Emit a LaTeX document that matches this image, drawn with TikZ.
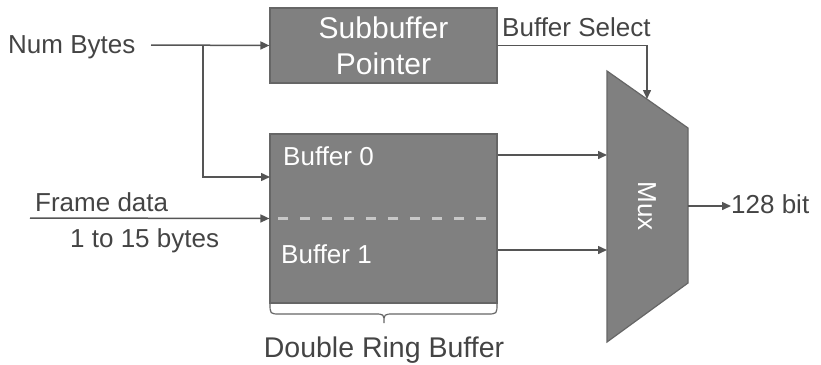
\documentclass[tikz,border=0pt]{standalone}
\usepackage{fontspec}
\setmainfont{Liberation Sans}
\usetikzlibrary{arrows.meta}
\definecolor{boxfill}{HTML}{808080}
\definecolor{boxline}{HTML}{666666}
\definecolor{txt}{HTML}{444444}
\definecolor{wirec}{HTML}{555555}
\definecolor{dashc}{HTML}{C8C8C8}
\begin{document}
\begin{tikzpicture}[x=1pt,y=-1pt,
  lbl/.style={font=\fontsize{26}{30}\selectfont, text=txt, inner sep=0pt},
  blk/.style={draw=boxline, fill=boxfill, line width=1.2pt},
  wire/.style={draw=wirec, line width=1.5pt, -{Triangle[length=9pt,width=8pt]}}]
\useasboundingbox (0,0) rectangle (821,364);
% blocks
\node[blk, minimum width=227pt, minimum height=75pt, inner sep=0pt,
      font=\fontsize{30}{36}\selectfont, text=white, align=center] (sub) at (383.5,45.5) {Subbuffer\\Pointer};
\node[blk, minimum width=227pt, minimum height=169pt, inner sep=0pt] (buf) at (383.5,218.5) {};
\node[lbl, text=white, anchor=base west] (b0) at (283,165) {Buffer 0};
\node[lbl, text=white, anchor=base west] (b1) at (281,263) {Buffer 1};
\draw[dashc, line width=3pt, dash pattern=on 10pt off 12pt] (278,218) -- (490,218);
% mux
\draw[blk] (607,71) -- (688,128) -- (688,283) -- (607,342) -- cycle;
\coordinate (muxsel) at (647,99);
\coordinate (muxin0) at (607,155);
\coordinate (muxin1) at (607,250);
\coordinate (muxout) at (688,206);
\node[font=\fontsize{26}{30}\selectfont, text=white, rotate=-90, inner sep=0pt] (muxl) at (647,206) {Mux};
% labels
\node[lbl, anchor=base west] (nb) at (8,53) {Num Bytes};
\node[lbl, anchor=base west] (fd) at (35,211) {Frame data};
\node[lbl, anchor=base west] (fb) at (70,247) {1 to 15 bytes};
\node[lbl, anchor=base west] (bs) at (502,36) {Buffer Select};
\node[lbl, anchor=base west] (out) at (731,213) {128 bit};
\node[font=\fontsize{28.5}{34}\selectfont, text=txt, inner sep=0pt, anchor=base] (drb) at (384,357) {Double Ring Buffer};
% connectors
\coordinate (nbs) at (151,45);
\coordinate (split) at (203,45);
\coordinate (b0in) at (270,177);
\coordinate (fs) at (30,218);
\draw[wire] (nbs) -- (sub.west);
\draw[wire] (split) |- (b0in);
\draw[wire] (fs) -- (buf.west);
\draw[wire] (buf.east |- muxin0) -- (muxin0);
\draw[wire] (buf.east |- muxin1) -- (muxin1);
\draw[wire] (sub.east) -| (muxsel);
\draw[wire] (muxout) -- (out.west |- muxout);
% brace
\draw[boxline, line width=1.2pt] (270,303) .. controls (270,314) .. (280,314) -- (374,314)
  .. controls (384,314) .. (384,323) .. controls (384,314) .. (394,314) -- (487,314)
  .. controls (497,314) .. (497,303);
\end{tikzpicture}
\end{document}
